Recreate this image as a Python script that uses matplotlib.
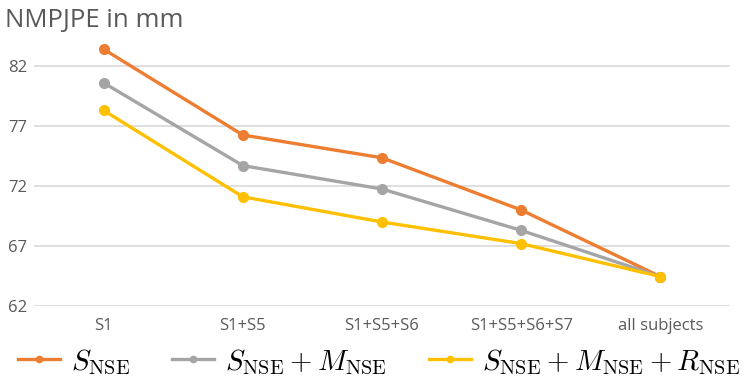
import matplotlib
matplotlib.use("Agg")
import matplotlib.pyplot as plt

categories = ["S1", "S1+S5", "S1+S5+S6", "S1+S5+S6+S7", "all subjects"]
s_nse = [83.4, 76.25, 74.35, 70.0, 64.45]
s_m_nse = [80.6, 73.7, 71.75, 68.3, 64.45]
s_m_r_nse = [78.3, 71.1, 69.0, 67.2, 64.45]
yticks = [62, 67, 72, 77, 82]
labels = [r"$S_{\rm NSE}$", r"$S_{\rm NSE} + M_{\rm NSE}$",
          r"$S_{\rm NSE} + M_{\rm NSE} + R_{\rm NSE}$"]
colors = ["#ED7D31", "#A5A5A5", "#FFC000"]

plt.rcParams['font.family'] = ['Open Sans', 'DejaVu Sans']
plt.rcParams['mathtext.fontset'] = 'cm'

fig = plt.figure(figsize=(7.48, 3.8), dpi=100)
ax = fig.add_axes([34/748, 1 - 306/380, 696/748, (306 - 36)/380])

x = list(range(len(categories)))
for vals, lab, c in zip([s_nse, s_m_nse, s_m_r_nse], labels, colors):
    ax.plot(x, vals, color=c, lw=2.4, marker='o', ms=7, label=lab,
            solid_capstyle='round')

ax.set_xlim(-0.5, len(categories) - 0.5)
ax.set_ylim(62, 84.5)
ax.set_yticks(yticks)
ax.set_xticks(x)
ax.set_xticklabels(categories)
ax.grid(axis='y', color='#D9D9D9', lw=1.2)
ax.set_axisbelow(True)
for s in ax.spines.values():
    s.set_visible(False)
ax.tick_params(axis='both', length=0, labelsize=12, colors='#595959')
ax.tick_params(axis='x', pad=9)
ax.tick_params(axis='y', pad=5)

fig.text(5/748, 1 - 21/380, "NMPJPE in mm", fontsize=18.5, color='#595959',
         va='center', ha='left')

handles = [plt.Line2D([], [], color=c, lw=2.4, marker='o', ms=4.5) for c in colors]
leg = fig.legend(handles, labels, loc='center left', bbox_to_anchor=(18/748, 1 - 362/380), ncol=3,
                 frameon=False, fontsize=20.8, handlelength=1.45,
                 columnspacing=1.45, handletextpad=0.38, borderpad=0, borderaxespad=0)

fig.savefig("out.png", dpi=100)
